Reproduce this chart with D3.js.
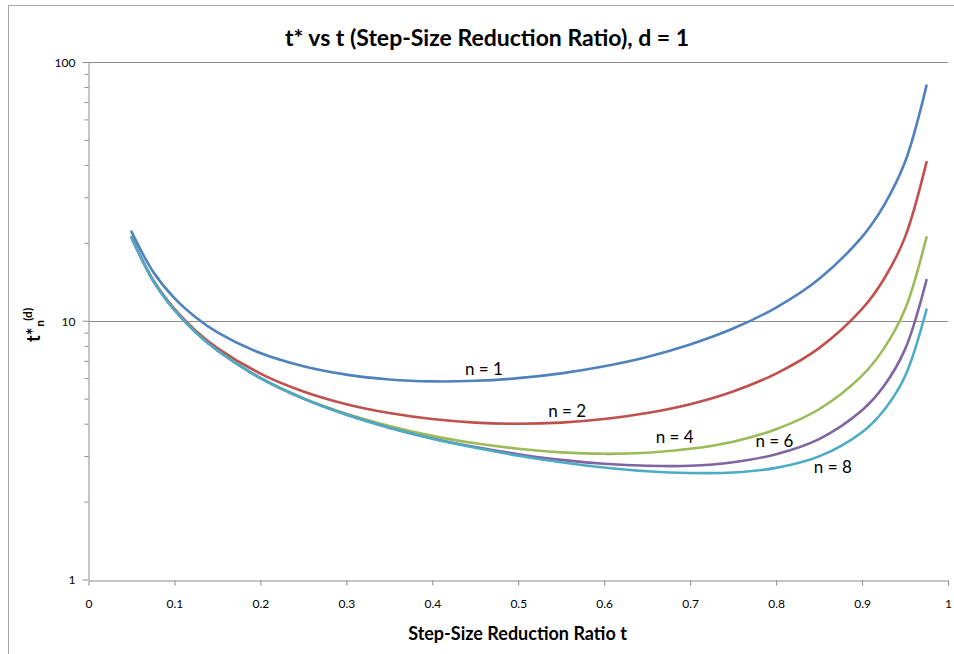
<!DOCTYPE html>
<html>
<head>
    <meta charset="utf-8">
    <title>t* vs t</title>
    <style>
        html, body { margin: 0px; padding: 0px; background: #fff; }
        svg { display: block; font-family: Lato, 'Open Sans', sans-serif; }
        .series { fill: none; stroke-width: 2.6px; stroke-linejoin: round; stroke-linecap: round; }
        .axis text { font-size: 12px; fill: #000; }
        .axis line { stroke: #8c8c8c; }
        .grid { stroke: #8c8c8c; stroke-width: 1px; }
        .lbl { font-size: 17px; fill: #000; }
    </style>
    <script src="https://d3js.org/d3.v7.min.js"></script>
</head>
<body>
<script>

    // step-size reduction ratio t
    var tVals = [0.05, 0.075, 0.1, 0.125, 0.15, 0.2, 0.25, 0.3, 0.35, 0.4, 0.45, 0.5,
                 0.55, 0.6, 0.65, 0.7, 0.75, 0.8, 0.85, 0.9, 0.925, 0.95, 0.975];

    var n1 = [22.11, 15.50, 12.22, 10.29, 9.02, 7.50, 6.67, 6.19, 5.93, 5.83, 5.86, 6.00,
              6.26, 6.67, 7.25, 8.10, 9.33, 11.25, 14.51, 21.11, 27.75, 41.05, 81.03];
    var n2 = [21.05, 14.41, 11.11, 9.14, 7.84, 6.25, 5.33, 4.76, 4.40, 4.17, 4.04, 4.00,
              4.04, 4.17, 4.40, 4.76, 5.33, 6.25, 7.84, 11.11, 14.41, 21.05, 41.03];
    var n4 = [21.00, 14.33, 11.00, 9.00, 7.67, 6.01, 5.02, 4.37, 3.92, 3.59, 3.36, 3.20,
              3.10, 3.06, 3.09, 3.20, 3.41, 3.81, 4.55, 6.14, 7.77, 11.07, 21.03];
    var n6 = [21.00, 14.33, 11.00, 9.00, 7.67, 6.00, 5.00, 4.34, 3.86, 3.51, 3.25, 3.05,
              2.90, 2.80, 2.75, 2.75, 2.84, 3.05, 3.49, 4.51, 5.57, 7.75, 14.37];
    var n8 = [21.00, 14.33, 11.00, 9.00, 7.67, 6.00, 5.00, 4.33, 3.86, 3.50, 3.23, 3.01,
              2.84, 2.71, 2.62, 2.58, 2.59, 2.70, 2.99, 3.71, 4.49, 6.10, 11.05];

    var seriesNames = ["n = 1", "n = 2", "n = 4", "n = 6", "n = 8"];
    var seriesColors = ["#4f81bd", "#c0504d", "#9bbb59", "#8064a2", "#4bacc6"];

    var xTicks = [0, 0.1, 0.2, 0.3, 0.4, 0.5, 0.6, 0.7, 0.8, 0.9, 1];
    var yTicks = [1, 10, 100];
    var yMinor = [2, 3, 4, 5, 6, 7, 8, 9, 20, 30, 40, 50, 60, 70, 80, 90];

    // label anchor points (t, value at baseline) for the in-plot series labels
    var labelT = [0.460, 0.557, 0.682, 0.798, 0.866];
    var labelV = [6.17, 4.25, 3.37, 3.25, 2.58];

    var width = 954, height = 654;

    var svg = d3.select("body").append("svg")
        .attr("width", width)
        .attr("height", height);

    // chart frame
    svg.append("rect")
        .attr("x", 8.5).attr("y", 5.5)
        .attr("width", 980).attr("height", 680)
        .attr("fill", "#fff")
        .attr("stroke", "#a6a6a6");

    var xScale = d3.scaleLinear().domain([0, 1]).range([88.5, 948]);
    var yScale = d3.scaleLog().domain([1, 100]).range([579.5, 62]);

    // horizontal gridlines
    svg.selectAll(".grid").data(yTicks.slice(1))
        .enter().append("line")
        .attr("class", "grid")
        .attr("x1", xScale(0)).attr("x2", xScale(1))
        .attr("y1", function(d) { return Math.round(yScale(d)) + 0.5; })
        .attr("y2", function(d) { return Math.round(yScale(d)) + 0.5; });

    // x axis
    var xAxis = d3.axisBottom(xScale)
        .tickValues(xTicks)
        .tickSize(5)
        .tickSizeOuter(0)
        .tickFormat(d3.format("~g"));

    var gx = svg.append("g")
        .attr("class", "axis")
        .attr("transform", "translate(0," + (Math.round(yScale(1)) + 0.5) + ")")
        .call(xAxis);
    gx.select(".domain").attr("stroke", "#8c8c8c");
    gx.selectAll("text").attr("y", 27).attr("dy", 0).attr("font-family", "Lato, sans-serif");

    // y axis
    var yAxis = d3.axisLeft(yScale)
        .tickValues(yTicks)
        .tickSize(6)
        .tickSizeOuter(0)
        .tickFormat(function(d) { return d; });

    var gy = svg.append("g")
        .attr("class", "axis")
        .attr("transform", "translate(" + xScale(0) + ",0)")
        .call(yAxis);
    gy.select(".domain").attr("stroke", "#8c8c8c");
    gy.selectAll("text").attr("x", -13).attr("dy", "0.36em").attr("font-family", "Lato, sans-serif");

    var gyMinor = svg.append("g")
        .attr("class", "axis")
        .attr("transform", "translate(" + xScale(0) + ",0)")
        .call(d3.axisLeft(yScale).tickValues(yMinor).tickSize(4).tickSizeOuter(0).tickFormat(""));
    gyMinor.select(".domain").remove();

    // series
    var allSeries = [n1, n2, n4, n6, n8];

    var line = d3.line()
        .curve(d3.curveCatmullRom.alpha(0.5))
        .x(function(d, i) { return xScale(tVals[i]); })
        .y(function(d) { return yScale(d); });

    svg.selectAll(".series").data(allSeries)
        .enter().append("path")
        .attr("class", "series")
        .attr("stroke", function(d, i) { return seriesColors[i]; })
        .attr("d", line);

    // in-plot labels
    svg.selectAll(".lbl").data(seriesNames)
        .enter().append("text")
        .attr("class", "lbl")
        .attr("text-anchor", "middle")
        .attr("x", function(d, i) { return xScale(labelT[i]); })
        .attr("y", function(d, i) { return yScale(labelV[i]); })
        .text(function(d) { return d; });

    // title
    svg.append("text")
        .attr("x", 487)
        .attr("y", 46)
        .attr("text-anchor", "middle")
        .attr("font-size", "23px")
        .attr("font-weight", "bold")
        .text("t* vs t (Step-Size Reduction Ratio), d = 1");

    // x axis title
    svg.append("text")
        .attr("x", 517.5)
        .attr("y", 640)
        .attr("text-anchor", "middle")
        .attr("font-size", "18px")
        .attr("font-weight", "bold")
        .text("Step-Size Reduction Ratio t");

    // y axis title  t*_n^(d)
    var yt = svg.append("text")
        .attr("transform", "translate(40,342) rotate(-90)")
        .attr("font-size", "18px")
        .attr("font-weight", "bold");
    yt.append("tspan").text("t*");
    yt.append("tspan").attr("dx", 1).attr("dy", 4).attr("font-size", "12px").text("n");
    yt.append("tspan").attr("dx", -1).attr("dy", -12).attr("font-size", "12px").text("(d)");

</script>
</body>
</html>
